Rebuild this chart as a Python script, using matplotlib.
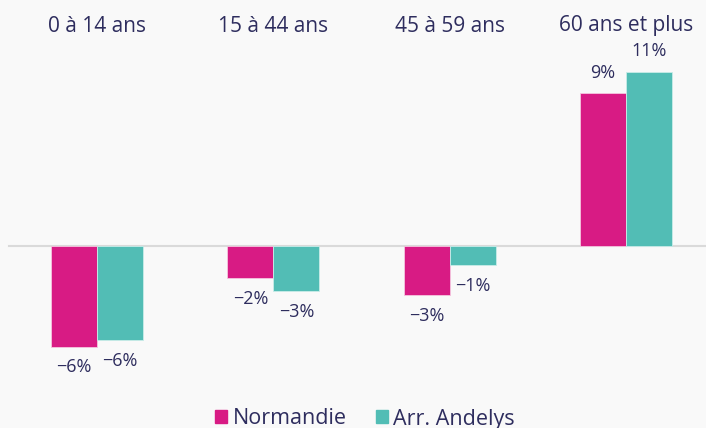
import matplotlib.pyplot as plt
from matplotlib.patches import Patch

categories = ["0 à 14 ans", "15 à 44 ans", "45 à 59 ans", "60 ans et plus"]
normandie = [-6.1, -1.95, -2.95, 9.25]
andelys = [-5.7, -2.75, -1.15, 10.55]
normandie_labels = ["\u22126%", "\u22122%", "\u22123%", "9%"]
andelys_labels = ["\u22126%", "\u22123%", "\u22121%", "11%"]
series_names = ["Normandie", "Arr. Andelys"]

pink = "#D81B84"
teal = "#52BDB5"
txt = "#2E2D5E"
bg = "#F9F9F9"

plt.rcParams["font.family"] = ["Open Sans", "DejaVu Sans"]

fig = plt.figure(figsize=(7.06, 4.28), dpi=100, facecolor=bg)
ax = fig.add_axes([0, 0, 1, 1])
ax.set_facecolor(bg)

w = 0.261
x = list(range(len(categories)))
ax.bar([i - w / 2 for i in x], normandie, w, color=pink, edgecolor="#F4C6DF", linewidth=0.6, zorder=2)
ax.bar([i + w / 2 for i in x], andelys, w, color=teal, edgecolor="#C9ECE9", linewidth=0.6, zorder=2)

ax.axhline(0, xmin=9 / 706, xmax=1, color="#DADADA", linewidth=1.5, zorder=1)

# value labels
for vals, labs, dx in [(normandie, normandie_labels, -w / 2), (andelys, andelys_labels, w / 2)]:
    for i, (v, lab) in enumerate(zip(vals, labs)):
        off = 15 if v > 0 else -15
        ax.annotate(lab, (i + dx, v), xytext=(0, off), textcoords="offset points",
                    ha="center", va="center", fontsize=13, color=txt)

# category titles
for i, c in enumerate(categories):
    ax.text(i, 1 - 26 / 428, c, transform=ax.get_xaxis_transform(),
            ha="center", va="center", fontsize=15, color=txt)

ax.set_xlim(-0.550, 3.454)
ax.set_ylim(-11.03, 14.91)
ax.axis("off")

handles = [Patch(color=pink), Patch(color=teal)]
fig.legend(handles, series_names, loc="center", bbox_to_anchor=(0.517, 9 / 428),
           ncol=2, frameon=False, fontsize=15.5, labelcolor=txt,
           handlelength=0.55, handleheight=0.55, handletextpad=0.25, columnspacing=1.35)

fig.savefig("out.png", dpi=100, facecolor=bg)
